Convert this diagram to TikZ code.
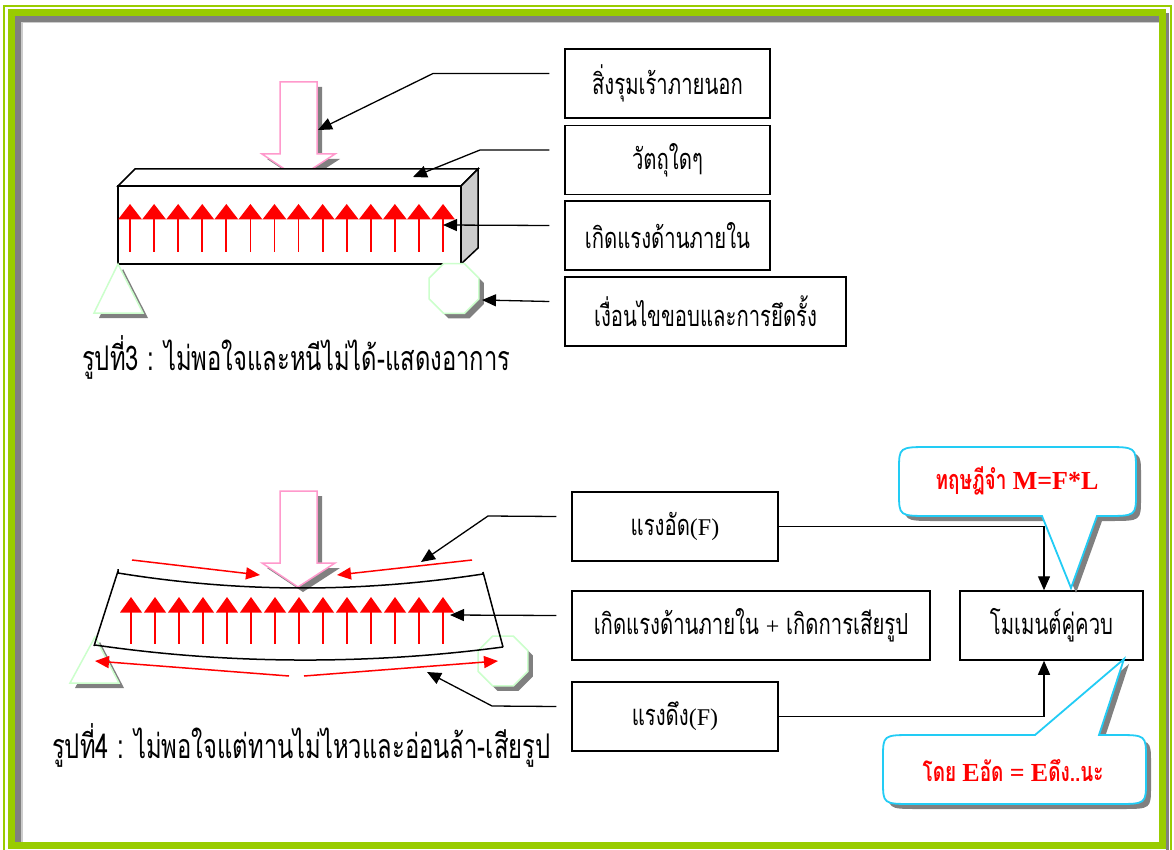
\documentclass[tikz,border=0pt]{standalone}
\usepackage{fontspec}
\setmainfont{Liberation Serif}
\newfontfamily\thf[Script=Thai,FakeStretch=0.7]{Loma}
\usetikzlibrary{arrows.meta,shapes.geometric,shadows,calc}

\definecolor{framelime}{HTML}{99CC00}
\definecolor{shadegray}{HTML}{808080}
\definecolor{loadpink}{HTML}{FF99CC}
\definecolor{supportgreen}{HTML}{CCFFCC}
\definecolor{calloutcyan}{HTML}{22CCF5}
\definecolor{sidegray}{HTML}{CCCCCC}
\definecolor{forcered}{HTML}{FF0000}

% Latin pieces inside Thai labels
\newcommand\lat[1]{{\rmfamily\fontsize{24}{28}\selectfont #1}}
\newcommand\latbold[1]{{\rmfamily\bfseries\fontsize{26}{30}\selectfont #1}}

\tikzset{
  shadowed/.style={drop shadow={shadow xshift=5pt,shadow yshift=-5pt,fill=shadegray,opacity=1}},
  labelbox/.style={draw=black,line width=1.5pt,fill=white,inner sep=0pt,
    minimum height=69pt,font={\thf\fontsize{29}{32}\selectfont}},
  pointer/.style={draw=black,line width=1.3pt,-{Triangle[length=14pt,width=12pt]}},
  loadline/.style={draw=loadpink,line width=1.5pt,fill=white},
  supportline/.style={draw=supportgreen,line width=1.5pt,fill=white},
  roller/.style={regular polygon,regular polygon sides=8,minimum size=54pt,inner sep=0pt,
    supportline,shadowed},
  beamline/.style={draw=black,line width=1.5pt},
  stressline/.style={draw=forcered,line width=1.5pt,-{Triangle[length=14pt,width=12pt]}},
  reactshaft/.style={draw=forcered,line width=1.8pt},
  callout/.style={draw=calloutcyan,line width=1.8pt,fill=white,shadowed},
  callouttext/.style={text=forcered,font={\thf\bfseries\fontsize{27}{30}\selectfont}},
  caption/.style={anchor=west,inner sep=0pt,font={\thf\fontsize{34}{38}\selectfont}},
  loadarrow/.pic={
    \path[loadline,shadowed] (-18,-96) -- (19,-96) -- (19,-24) -- (37,-24) -- (0,0)
      -- (-36,-24) -- (-18,-24) -- cycle;
  }
}

\begin{document}
\begin{tikzpicture}[x=1pt,y=-1pt]
\useasboundingbox (0,0) rectangle (1174,850);
\fill[white] (0,0) rectangle (1174,850);

% page frame
\draw[framelime,line width=1.2pt] (4,850) -- (4,6) -- (1171,6) -- (1171,850);
\fill[shadegray] (1166,13) rectangle (1169,850);
\fill[framelime] (8,9) rectangle (1166,849);
\fill[white] (15,16) rectangle (1159,842);
\fill[shadegray] (15,16) rectangle (1159,22);
\fill[shadegray] (15,16) rectangle (21,842);
\fill[sidegray] (21,22) rectangle (1159,23.5);
\fill[sidegray] (21,22) rectangle (22.5,842);

% ---------- upper figure: loaded block ----------
\pic at (298,178) {loadarrow};
\draw[beamline,fill=white] (118,186) -- (135,169) -- (478,169) -- (461,186) -- cycle;
\draw[beamline,fill=sidegray] (461,186) -- (478,169) -- (478,248) -- (461,264) -- cycle;
\draw[beamline,fill=white] (118,186) rectangle (461,264);
\foreach \i in {0,...,13}{
  \pgfmathsetmacro\xx{130+\i*24.08}
  \draw[reactshaft] (\xx,219) -- (\xx,252);
  \fill[forcered] (\xx-12,219.5) -- (\xx+12,219.5) -- (\xx,204) -- cycle;
}
\path[supportline,shadowed] (118,264) -- (143,313) -- (94,313) -- cycle;
\node[roller] (rollerA) at (454,288.5) {};

\node[labelbox,minimum width=205pt] (outer) at (667.5,83.5) {สิ่งรุมเร้าภายนอก};
\node[labelbox,minimum width=205pt] (body) at (667.5,160) {วัตถุใดๆ};
\node[labelbox,minimum width=205pt] (inner) at (667.5,235.5) {เกิดแรงด้านภายใน};
\node[labelbox,minimum width=281pt] (bound) at (705.5,311.5) {เงื่อนไขขอบและการยึดรั้ง};

\coordinate (tipOuter) at (318,130);
\coordinate (tipBody) at (413,177);
\coordinate (tipInner) at (443,225);
\coordinate (tipBound) at (482,300);
\draw[pointer] ($(outer.west)+(-15,-10)$) -- (433,73.5) -- (tipOuter);
\draw[pointer] ($(body.west)+(-15,-10)$) -- (480,150) -- (tipBody);
\draw[pointer] ($(inner.west)+(-15,-10)$) -- (tipInner);
\draw[pointer] ($(bound.west)+(-15,-10)$) -- (tipBound);

\node[caption] (capA) at (82,357) {รูปที่3 : ไม่พอใจและหนีไม่ได้-แสดงอาการ};

% ---------- lower figure: bent beam ----------
\path[supportline,shadowed] (95,637) -- (119,683) -- (70,683) -- cycle;
\node[roller] (rollerB) at (503,661) {};
\pic at (298,587) {loadarrow};
\draw[beamline] (118,569) -- (118,573) .. controls (240,592.8) and (360,592.8) .. (483,574) -- (483,572);
\draw[beamline] (118,571) -- (94,646);
\draw[beamline] (483,572) -- (503,647);
\draw[beamline] (95,645) .. controls (230,664.7) and (370,664.7) .. (503,647);
\foreach \i in {0,...,13}{
  \pgfmathsetmacro\xx{131+\i*24}
  \draw[reactshaft] (\xx,612) -- (\xx,644);
  \fill[forcered] (\xx-11,612.5) -- (\xx+11,612.5) -- (\xx,597) -- cycle;
}
\draw[stressline] (132,560) -- (260,575);
\draw[stressline] (472,560) -- (337,575);
\draw[stressline] (289,676) -- (95,661);
\draw[stressline] (304,676) -- (498,661);

\node[labelbox,minimum width=206pt] (press) at (675,526.5) {แรงอัด\lat{(F)}};
\node[labelbox,minimum width=358pt] (deform) at (751,625.5) {เกิดแรงด้านภายใน \lat{+} เกิดการเสียรูป};
\node[labelbox,minimum width=206pt] (pull) at (675,716.5) {แรงดึง\lat{(F)}};
\node[labelbox,minimum width=183pt] (moment) at (1051.5,625.5) {โมเมนต์คู่ควบ};

\coordinate (tipPress) at (421,562);
\coordinate (tipDeform) at (450,615);
\coordinate (tipPull) at (427,672);
\draw[pointer] ($(press.west)+(-15,-10)$) -- (488,516) -- (tipPress);
\draw[pointer] ($(deform.west)+(-15,-10)$) -- (tipDeform);
\draw[pointer] ($(pull.west)+(-15,-10)$) -- (492,706) -- (tipPull);
\draw[pointer] (press.east) -| ($(moment.north)+(-7.5,0)$);
\draw[pointer] (pull.east) -| ($(moment.south)+(-7.5,0)$);

\node[caption] (capB) at (52,745) {รูปที่4 : ไม่พอใจแต่ทานไม่ไหวและอ่อนล้า-เสียรูป};

% ---------- callouts ----------
\path[callout] (899,470) .. controls (899,447) and (899,447) .. (930,447) -- (1105,447)
  .. controls (1136,447) and (1136,447) .. (1136,470) -- (1136,493)
  .. controls (1136,516) and (1136,516) .. (1105,516) -- (1097,516) -- (1071,588)
  -- (1042,516) -- (930,516) .. controls (899,516) and (899,516) .. (899,493) -- cycle;
\node[callouttext] (rule) at (1017,481) {ทฤษฎีจำ \latbold{M=F*L}};

\path[callout] (883,758) .. controls (883,735) and (883,735) .. (913,735) -- (1035,735)
  -- (1124,659) -- (1099,735) -- (1116,735) .. controls (1146,735) and (1146,735) .. (1146,758)
  -- (1146,781) .. controls (1146,804) and (1146,804) .. (1116,804) -- (913,804)
  .. controls (883,804) and (883,804) .. (883,781) -- cycle;
\node[callouttext] (equal) at (1013,770) {โดย \latbold{E}อัด \latbold{=} \latbold{E}ดึง..นะ};
\end{tikzpicture}
\end{document}
